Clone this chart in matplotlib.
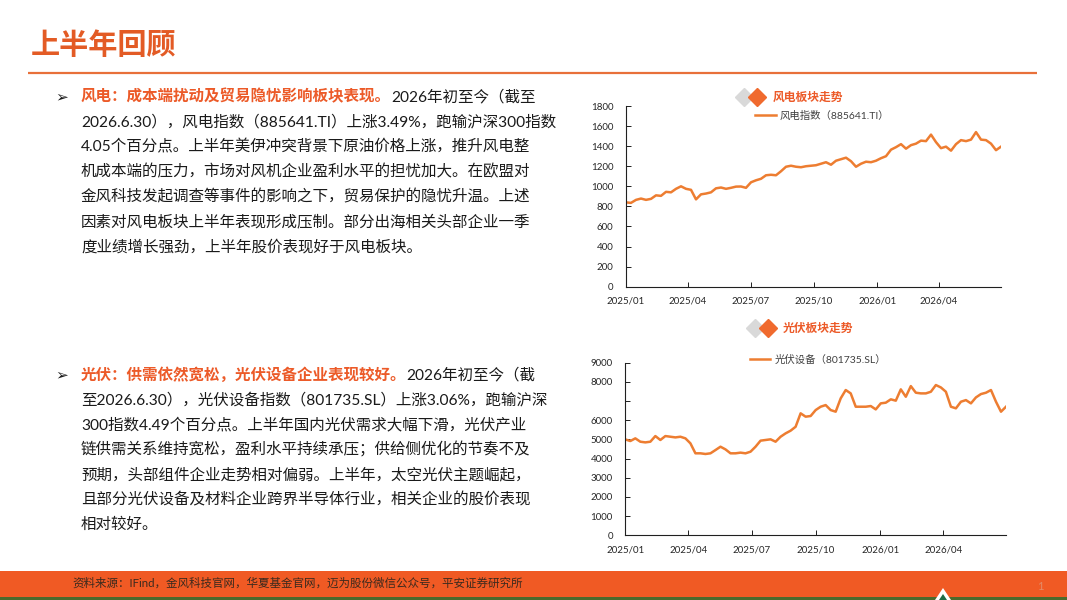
import matplotlib
matplotlib.use('Agg')
import matplotlib.pyplot as plt
from matplotlib.patches import Rectangle, Polygon
import pandas as pd

W, H = 1067, 600
FAM = ['Lato', 'Noto Sans CJK SC', 'DejaVu Sans']
plt.rcParams['font.family'] = FAM

# ---------------- data ----------------
page_title = "上半年回顾"
wind_title = "风电板块走势"
wind_label = "风电指数（885641.TI）"
solar_title = "光伏板块走势"
solar_label = "光伏设备（801735.SL）"

tick_dates = ['2025-01-01', '2025-04-01', '2025-07-01', '2025-10-01', '2026-01-01', '2026-04-01']
tick_labels = ['2025/01', '2025/04', '2025/07', '2025/10', '2026/01', '2026/04']
start_date = '2025-01-01'
end_date = '2026-06-30'

wind_values = [840, 835, 865, 878, 865, 875, 910, 905, 945, 940,
               975, 1000, 975, 965, 870, 920, 928, 940, 980, 988,
               975, 985, 997, 998, 985, 1040, 1060, 1075, 1110, 1115,
               1110, 1150, 1195, 1205, 1195, 1190, 1200, 1205, 1210, 1225,
               1240, 1215, 1255, 1270, 1285, 1250, 1195, 1225, 1245, 1240,
               1255, 1280, 1300, 1365, 1390, 1420, 1375, 1410, 1425, 1455,
               1450, 1515, 1440, 1380, 1395, 1355, 1420, 1460, 1450, 1465,
               1540, 1465, 1460, 1425, 1360, 1395]

solar_values = [5000, 4915, 5055, 4880, 4845, 4880, 5175, 4970, 5175, 5140,
                5105, 5140, 5055, 4795, 4275, 4275, 4240, 4275, 4445, 4620,
                4480, 4275, 4275, 4310, 4275, 4360, 4620, 4935, 4970, 5005,
                4880, 5140, 5315, 5455, 5660, 6360, 6185, 6220, 6530, 6705,
                6790, 6530, 6445, 7140, 7575, 7400, 6705, 6705, 6705, 6740,
                6565, 6880, 6915, 7090, 7020, 7610, 7225, 7780, 7435, 7400,
                7400, 7485, 7835, 7710, 7485, 6705, 6620, 6965, 7050, 6880,
                7190, 7365, 7435, 7575, 6965, 6445, 6705]

wind_yticks = [0, 200, 400, 600, 800, 1000, 1200, 1400, 1600, 1800]
solar_yticks = [0, 1000, 2000, 3000, 4000, 5000, 6000, 7000, 8000, 9000]
solar_ytick_labels = ['0', '1000', '2000', '3000', '4000', '5000', '6000', '', '8000', '9000']

bullet1_head = "风电：成本端扰动及贸易隐忧影响板块表现。"
bullet1_rest = "2026年初至今（截至"
bullet1_lines = ["2026.6.30），风电指数（885641.TI）上涨3.49%，跑输沪深300指数",
                 "4.05个百分点。上半年美伊冲突背景下原油价格上涨，推升风电整",
                 "机成本端的压力，市场对风机企业盈利水平的担忧加大。在欧盟对",
                 "金风科技发起调查等事件的影响之下，贸易保护的隐忧升温。上述",
                 "因素对风电板块上半年表现形成压制。部分出海相关头部企业一季",
                 "度业绩增长强劲，上半年股价表现好于风电板块。"]
bullet2_head = "光伏：供需依然宽松，光伏设备企业表现较好。"
bullet2_rest = "2026年初至今（截"
bullet2_lines = ["至2026.6.30），光伏设备指数（801735.SL）上涨3.06%，跑输沪深",
                 "300指数4.49个百分点。上半年国内光伏需求大幅下滑，光伏产业",
                 "链供需关系维持宽松，盈利水平持续承压；供给侧优化的节奏不及",
                 "预期，头部组件企业走势相对偏弱。上半年，太空光伏主题崛起，",
                 "且部分光伏设备及材料企业跨界半导体行业，相关企业的股价表现",
                 "相对较好。"]
source_text = "资料来源：IFind，金风科技官网，华夏基金官网，迈为股份微信公众号，平安证券研究所"

# ---------------- styles ----------------
ORANGE = '#ED7D31'
RED_OR = '#EC5A28'
TXT = '#1a1a1a'
BODY_FS = 11.2

fig = plt.figure(figsize=(W / 100, H / 100), dpi=100)
fig.patch.set_facecolor('white')

bg = fig.add_axes([0, 0, 1, 1], zorder=0)
bg.set_xlim(0, W)
bg.set_ylim(H, 0)
bg.axis('off')

# header
bg.text(31, 45, page_title, fontsize=21, fontweight='bold', color='#E35B25', va='center')
bg.plot([28, 1037], [73, 73], color='#E8703A', lw=1.6, solid_capstyle='butt')

# body text
def bullet_block(y0, head, rest, lines):
    bg.text(55, y0, "➢", fontsize=11, family=['DejaVu Sans'], color=TXT, va='center')
    t1 = bg.text(81, y0, head, fontsize=BODY_FS, fontweight='bold', color=RED_OR, va='center')
    bg.annotate(rest, xy=(1, 0), xycoords=t1, va='bottom', ha='left',
                fontsize=BODY_FS, color=TXT)
    for i, ln in enumerate(lines):
        bg.text(81, y0 + 25 * (i + 1), ln, fontsize=BODY_FS, color=TXT, va='center')

bullet_block(97, bullet1_head, bullet1_rest, bullet1_lines)
bullet_block(375, bullet2_head, bullet2_rest, bullet2_lines)

# footer
bg.add_patch(Rectangle((0, 571), W, 26, color='#F05A24', lw=0))
bg.add_patch(Rectangle((0, 597), W, 3, color='#4B6A2C', lw=0))
bg.add_patch(Polygon([[935, 600], [943, 588], [951, 600]], closed=True, color='white', lw=0))
bg.add_patch(Polygon([[939, 600], [943, 594], [947, 600]], closed=True, color='#1F6B45', lw=0))
bg.text(72, 583, source_text, fontsize=8.3, color='#3B2A1E', va='center')
bg.text(1040, 586, "1", fontsize=8, color='#E48B66', va='center', ha='center')

# chart titles (decorative diamonds)
def chart_title(xd, y, xt, txt):
    bg.plot([xd], [y], marker='D', ms=9, color='#D9D9D9', ls='none')
    bg.plot([xd + 13], [y], marker='D', ms=9, color='#F06A2E', ls='none')
    bg.text(xt, y, txt, fontsize=8.5, fontweight='bold', color=RED_OR, va='center')

chart_title(744, 97, 773, wind_title)
chart_title(755, 328, 783, solar_title)


def style_axis(ax, yticks, ylabels=None):
    ax.set_facecolor('none')
    for s in ['top', 'right']:
        ax.spines[s].set_visible(False)
    for s in ['left', 'bottom']:
        ax.spines[s].set_color('#202020')
        ax.spines[s].set_linewidth(0.8)
    ax.set_yticks(yticks)
    if ylabels is not None:
        ax.set_yticklabels(ylabels)
    ax.set_xticks(pd.to_datetime(tick_dates))
    ax.set_xticklabels(tick_labels)
    ax.tick_params(axis='y', direction='in', length=3.5, width=0.7, pad=9,
                   labelsize=7, colors='#202020')
    ax.tick_params(axis='x', direction='in', length=3.5, width=0.7, pad=7,
                   labelsize=7, colors='#202020')
    for lab in ax.get_xticklabels() + ax.get_yticklabels():
        lab.set_color('#262626')


# chart 1: wind
ax1 = fig.add_axes([626 / W, 1 - 286.7 / H, 375 / W, 180.7 / H], zorder=2)
d1 = pd.date_range(start_date, end_date, periods=len(wind_values))
ax1.plot(d1, wind_values, color=ORANGE, lw=1.8, label=wind_label)
ax1.set_xlim(d1[0], d1[-1])
ax1.set_ylim(0, 1800)
style_axis(ax1, wind_yticks)
leg1 = ax1.legend(loc='center', bbox_to_anchor=(0.523, 0.945), frameon=False,
                  fontsize=7.5, handlelength=2.0, handletextpad=0.4)
for t in leg1.get_texts():
    t.set_color('#404040')

# chart 2: solar
ax2 = fig.add_axes([625.3 / W, 1 - 535.3 / H, 380.7 / W, 172.6 / H], zorder=2)
d2 = pd.date_range(start_date, end_date, periods=len(solar_values))
ax2.plot(d2, solar_values, color=ORANGE, lw=1.8, label=solar_label)
ax2.set_xlim(d2[0], d2[-1])
ax2.set_ylim(0, 9000)
style_axis(ax2, solar_yticks, solar_ytick_labels)
leg2 = ax2.legend(loc='center', bbox_to_anchor=(0.506, 1.016), frameon=False,
                  fontsize=7.5, handlelength=2.0, handletextpad=0.4)
for t in leg2.get_texts():
    t.set_color('#404040')

fig.savefig('out.png', dpi=100, facecolor='white')
